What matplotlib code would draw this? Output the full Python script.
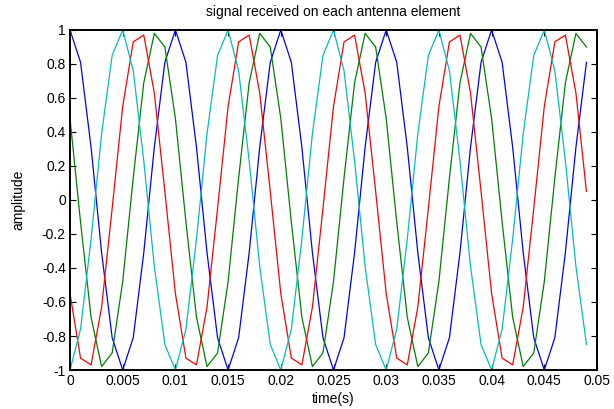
import matplotlib
matplotlib.use("Agg")
import matplotlib.pyplot as plt

plt.rcParams['font.family'] = ['Liberation Sans', 'DejaVu Sans']

# sample times (s)
t = [0.000, 0.001, 0.002, 0.003, 0.004, 0.005, 0.006, 0.007, 0.008, 0.009,
     0.010, 0.011, 0.012, 0.013, 0.014, 0.015, 0.016, 0.017, 0.018, 0.019,
     0.020, 0.021, 0.022, 0.023, 0.024, 0.025, 0.026, 0.027, 0.028, 0.029,
     0.030, 0.031, 0.032, 0.033, 0.034, 0.035, 0.036, 0.037, 0.038, 0.039,
     0.040, 0.041, 0.042, 0.043, 0.044, 0.045, 0.046, 0.047, 0.048, 0.049]

# amplitude
elem1 = [1.00, 0.81, 0.31, -0.31, -0.81, -1.00, -0.81, -0.31, 0.31, 0.81,
         1.00, 0.81, 0.31, -0.31, -0.81, -1.00, -0.81, -0.31, 0.31, 0.81,
         1.00, 0.81, 0.31, -0.31, -0.81, -1.00, -0.81, -0.31, 0.31, 0.81,
         1.00, 0.81, 0.31, -0.31, -0.81, -1.00, -0.81, -0.31, 0.31, 0.81,
         1.00, 0.81, 0.31, -0.31, -0.81, -1.00, -0.81, -0.31, 0.31, 0.81]
elem2 = [0.48, -0.13, -0.69, -0.98, -0.90, -0.48, 0.13, 0.69, 0.98, 0.90,
         0.48, -0.13, -0.69, -0.98, -0.90, -0.48, 0.13, 0.69, 0.98, 0.90,
         0.48, -0.13, -0.69, -0.98, -0.90, -0.48, 0.13, 0.69, 0.98, 0.90,
         0.48, -0.13, -0.69, -0.98, -0.90, -0.48, 0.13, 0.69, 0.98, 0.90,
         0.48, -0.13, -0.69, -0.98, -0.90, -0.48, 0.13, 0.69, 0.98, 0.90]
elem3 = [-0.55, -0.93, -0.97, -0.63, -0.05, 0.55, 0.93, 0.97, 0.63, 0.05,
         -0.55, -0.93, -0.97, -0.63, -0.05, 0.55, 0.93, 0.97, 0.63, 0.05,
         -0.55, -0.93, -0.97, -0.63, -0.05, 0.55, 0.93, 0.97, 0.63, 0.05,
         -0.55, -0.93, -0.97, -0.63, -0.05, 0.55, 0.93, 0.97, 0.63, 0.05,
         -0.55, -0.93, -0.97, -0.63, -0.05, 0.55, 0.93, 0.97, 0.63, 0.05]
elem4 = [-1.00, -0.76, -0.23, 0.39, 0.85, 1.00, 0.76, 0.23, -0.39, -0.85,
         -1.00, -0.76, -0.23, 0.39, 0.85, 1.00, 0.76, 0.23, -0.39, -0.85,
         -1.00, -0.76, -0.23, 0.39, 0.85, 1.00, 0.76, 0.23, -0.39, -0.85,
         -1.00, -0.76, -0.23, 0.39, 0.85, 1.00, 0.76, 0.23, -0.39, -0.85,
         -1.00, -0.76, -0.23, 0.39, 0.85, 1.00, 0.76, 0.23, -0.39, -0.85]

xticks = [0, 0.005, 0.01, 0.015, 0.02, 0.025, 0.03, 0.035, 0.04, 0.045, 0.05]
xticklabels = ['0', '0.005', '0.01', '0.015', '0.02', '0.025', '0.03',
               '0.035', '0.04', '0.045', '0.05']
yticks = [-1, -0.8, -0.6, -0.4, -0.2, 0, 0.2, 0.4, 0.6, 0.8, 1]
yticklabels = ['-1', '-0.8', '-0.6', '-0.4', '-0.2', '0', '0.2', '0.4',
               '0.6', '0.8', '1']

fig = plt.figure(figsize=(6.14, 4.09), dpi=100)
ax = fig.add_axes([70 / 614, 1 - 370 / 409, 527 / 614, 340 / 409])

ax.plot(t, elem1, color=(0, 0, 1), lw=0.9)
ax.plot(t, elem2, color=(0, 0.5, 0), lw=0.9)
ax.plot(t, elem3, color=(1, 0, 0), lw=0.9)
ax.plot(t, elem4, color=(0, 0.75, 0.75), lw=0.9)

ax.set_xlim(0, 0.05)
ax.set_ylim(-1, 1)
ax.set_xticks(xticks)
ax.set_xticklabels(xticklabels)
ax.set_yticks(yticks)
ax.set_yticklabels(yticklabels)
ax.tick_params(direction='in', top=True, right=True, length=4, width=0.8,
               labelsize=10, pad=3)
for sp in ax.spines.values():
    sp.set_linewidth(1.4)

ax.set_title("signal received on each antenna element", fontsize=10, pad=10)
ax.set_xlabel("time(s)", fontsize=10, labelpad=3)
ax.set_ylabel("amplitude", fontsize=10, labelpad=12)

fig.savefig("out.png", dpi=100)
